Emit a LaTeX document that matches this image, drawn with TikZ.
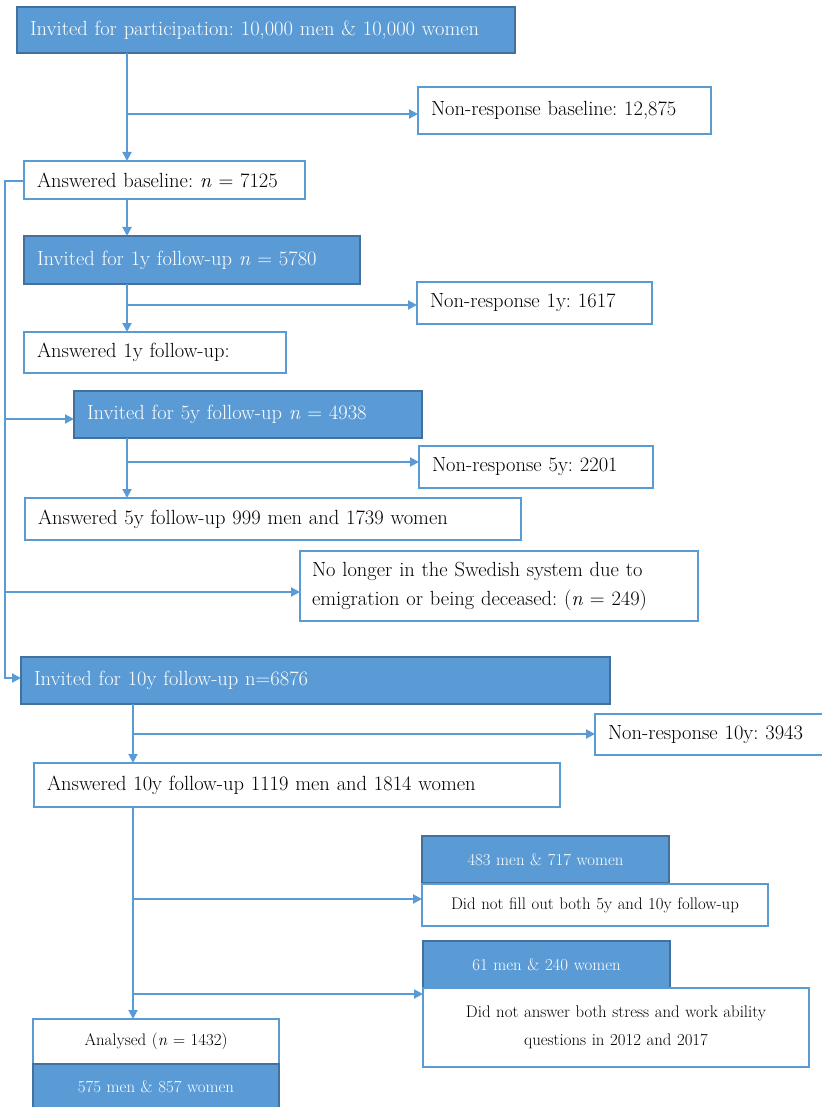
\documentclass[tikz,border=0pt]{standalone}
\usepackage{xcolor}
\usepackage{tikz}
\usetikzlibrary{arrows.meta}

\definecolor{flowline}{HTML}{5B9BD5}
\definecolor{flowfill}{HTML}{5B9BD5}
\definecolor{flowedge}{HTML}{41719C}
\newcommand{\bigtxt}{\fontsize{20.5}{29}\selectfont}
\newcommand{\smalltxt}{\fontsize{16.8}{28}\selectfont}
\frenchspacing

\begin{document}
\begin{tikzpicture}[
  x=1pt, y=-1pt,
  box/.style={draw=flowline, fill=white, line width=2pt, anchor=north west, outer sep=0pt,
    inner xsep=13pt, inner ysep=0pt, align=left, font=\bigtxt},
  fillbox/.style={box, draw=flowedge, fill=flowfill, text=white},
  smallbox/.style={align=center, font=\smalltxt},
  line/.style={draw=flowline, line width=2pt, -{Triangle[length=9pt,width=9pt]}}
]
\useasboundingbox (0,0) rectangle (821,1107);

% main column
\node[fillbox, text width=472pt, minimum height=46pt] (invited) at (17,7) {Invited for participation: 10,000 men \& 10,000 women};
\node[box, text width=267pt, minimum height=47pt] (nrbase) at (418,87) {Non-response baseline: 12,875};
\node[box, text width=255pt, minimum height=38pt] (ansbase) at (24,161) {Answered baseline: \textit{n} = 7125};
\node[fillbox, text width=310pt, minimum height=48pt] (inv1) at (24,236) {Invited for 1y follow-up \textit{n} = 5780};
\node[box, text width=209pt, minimum height=42pt] (nr1) at (417,282) {Non-response 1y: 1617};
\node[box, text width=236pt, minimum height=41pt] (ans1) at (24,332) {Answered 1y follow-up:};
\node[fillbox, text width=322pt, minimum height=47pt] (inv5) at (74,391) {Invited for 5y follow-up \textit{n} = 4938};
\node[box, text width=208pt, minimum height=42pt] (nr5) at (419,446) {Non-response 5y: 2201};
\node[box, text width=470pt, minimum height=42pt] (ans5) at (25,498) {Answered 5y follow-up 999 men and 1739 women};
\node[box, text width=374pt, minimum height=70pt, inner xsep=12pt] (gone) at (300,551) {No longer in the Swedish system due to\\emigration or being deceased: (\textit{n} = 249)};
\node[fillbox, text width=563pt, minimum height=47pt] (inv10) at (21,657) {Invited for 10y follow-up n=6876};
\node[box, text width=204pt, minimum height=41pt] (nr10) at (595,714) {Non-response 10y: 3943};
\node[box, text width=500pt, minimum height=44pt] (ans10) at (34,763) {Answered 10y follow-up 1119 men and 1814 women};

% exclusions
\node[fillbox, smallbox, text width=221pt, minimum height=47pt] (cnt5) at (422,836) {483 men \& 717 women};
\node[box, smallbox, text width=320pt, minimum height=42pt] (nofill) at (422,884) {Did not fill out both 5y and 10y follow-up};
\node[fillbox, smallbox, text width=221pt, minimum height=47pt] (cnt2) at (423,941) {61 men \& 240 women};
\node[box, smallbox, text width=360pt, minimum height=79pt] (noans) at (423,988) {Did not answer both stress and work ability\\questions in 2012 and 2017};
\node[box, smallbox, text width=220pt, minimum height=45pt] (anl) at (33,1019) {Analysed (\textit{n} = 1432)};
\node[fillbox, smallbox, text width=220pt, minimum height=46pt] (anlcnt) at (33,1064) {575 men \& 857 women};

% branch points
\coordinate (s0) at (127,114);
\coordinate (s1) at (127,305);
\coordinate (s5) at (127,462);
\coordinate (s10) at (133,734);
\coordinate (s11) at (133,899);
\coordinate (s12) at (133,994);
\coordinate (l0) at (5,181);
\coordinate (l5) at (5,419);
\coordinate (l9) at (5,592);
\coordinate (l10) at (5,678);

\draw[line] (s0 |- invited.south) -- (s0 |- ansbase.north);
\draw[line] (s0) -- (s0 -| nrbase.west);
\draw[line] (s0 |- ansbase.south) -- (s0 |- inv1.north);
\draw[line] (s1 |- inv1.south) -- (s1 |- ans1.north);
\draw[line] (s1) -- (s1 -| nr1.west);
\draw[line] (s5 |- inv5.south) -- (s5 |- ans5.north);
\draw[line] (s5) -- (s5 -| nr5.west);
\draw[line] (s10 |- inv10.south) -- (s10 |- ans10.north);
\draw[line] (s10) -- (s10 -| nr10.west);
\draw[line] (s11 |- ans10.south) -- (s11 |- anl.north);
\draw[line] (s11) -- (s11 -| nofill.west);
\draw[line] (s12) -- (s12 -| noans.west);

% left return line
\draw[line] (ansbase.west |- l0) -- (l0) -- (l10) -- (l10 -| inv10.west);
\draw[line] (l5) -- (l5 -| inv5.west);
\draw[line] (l9) -- (l9 -| gone.west);
\end{tikzpicture}
\end{document}
